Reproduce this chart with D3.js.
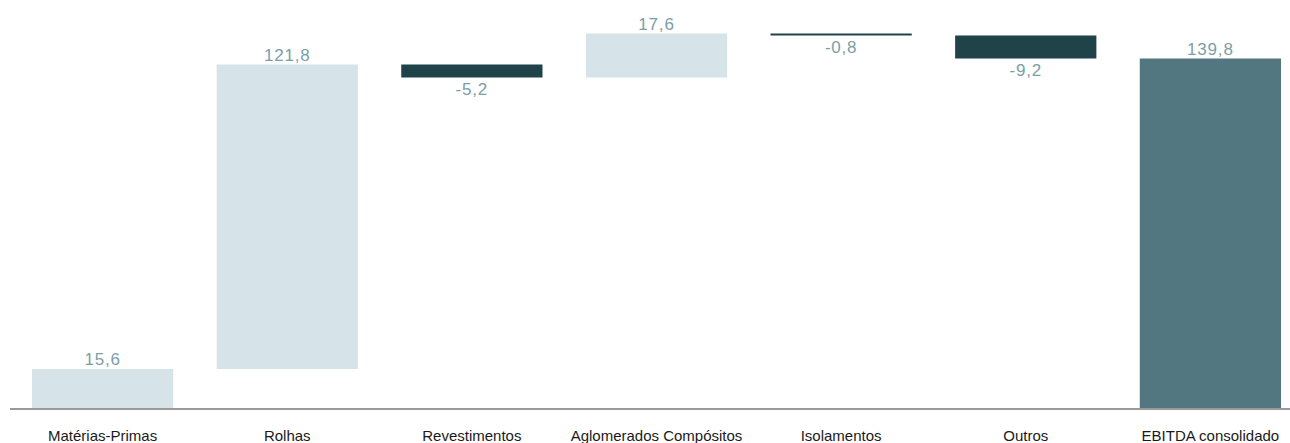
<!DOCTYPE html>
<html>
<head>
<meta charset="utf-8">
<script src="https://cdn.jsdelivr.net/npm/d3@7"></script>
<style>
  body { margin: 0; background: #fff; }
  text { font-family: "Liberation Sans", Arial, sans-serif; }
</style>
</head>
<body>
<svg id="chart" width="1290" height="443"></svg>
<script>
const categories = ["Matérias-Primas", "Rolhas", "Revestimentos", "Aglomerados Compósitos", "Isolamentos", "Outros", "EBITDA consolidado"];
const values = [15.6, 121.8, -5.2, 17.6, -0.8, -9.2, 139.8];
const isTotal = [false, false, false, false, false, false, true];

const width = 1290, height = 443;
const baseY = 408;

const svg = d3.select("#chart");

// waterfall steps
let running = 0;
const bars = categories.map((c, i) => {
    let start, end;
    if (isTotal[i]) { start = 0; end = values[i]; }
    else { start = running; end = running + values[i]; running = end; }
    return { name: c, value: values[i], start: start, end: end, total: isTotal[i] };
});

const x = d3.scaleBand()
    .domain(categories)
    .range([32, 1281])
    .paddingInner(0.235)
    .paddingOuter(0);

const y = d3.scaleLinear()
    .domain([0, 150])
    .range([baseY, 33]);

const fmt = v => d3.format(".1f")(v).replace(".", ",").replace("−", "-");

const color = d => d.total ? "#527780" : (d.value < 0 ? "#1f4349" : "#d6e4e9");

svg.selectAll(".bar")
    .data(bars)
    .enter().append("rect")
    .attr("class", "bar")
    .attr("x", d => x(d.name))
    .attr("width", x.bandwidth())
    .attr("y", d => y(Math.max(d.start, d.end)))
    .attr("height", d => Math.max(1.5, Math.abs(y(d.start) - y(d.end))))
    .attr("fill", d => color(d));

// baseline
svg.append("line")
    .attr("x1", 10)
    .attr("x2", width)
    .attr("y1", baseY + 1)
    .attr("y2", baseY + 1)
    .attr("stroke", "#9a9a9a")
    .attr("stroke-width", 2);

// value labels
svg.selectAll(".val")
    .data(bars)
    .enter().append("text")
    .attr("class", "val")
    .attr("x", d => x(d.name) + x.bandwidth() / 2)
    .attr("y", d => d.value >= 0 ? y(Math.max(d.start, d.end)) - 4 : y(Math.min(d.start, d.end)) + 17)
    .attr("text-anchor", "middle")
    .attr("font-size", 17)
    .attr("letter-spacing", 0.8)
    .attr("fill", "#7b9ea8")
    .text(d => fmt(d.value));

// category labels
svg.selectAll(".cat")
    .data(categories)
    .enter().append("text")
    .attr("class", "cat")
    .attr("x", d => x(d) + x.bandwidth() / 2)
    .attr("y", 441)
    .attr("text-anchor", "middle")
    .attr("font-size", 15)
    .attr("fill", "#1a1a1a")
    .text(d => d);
</script>
</body>
</html>
